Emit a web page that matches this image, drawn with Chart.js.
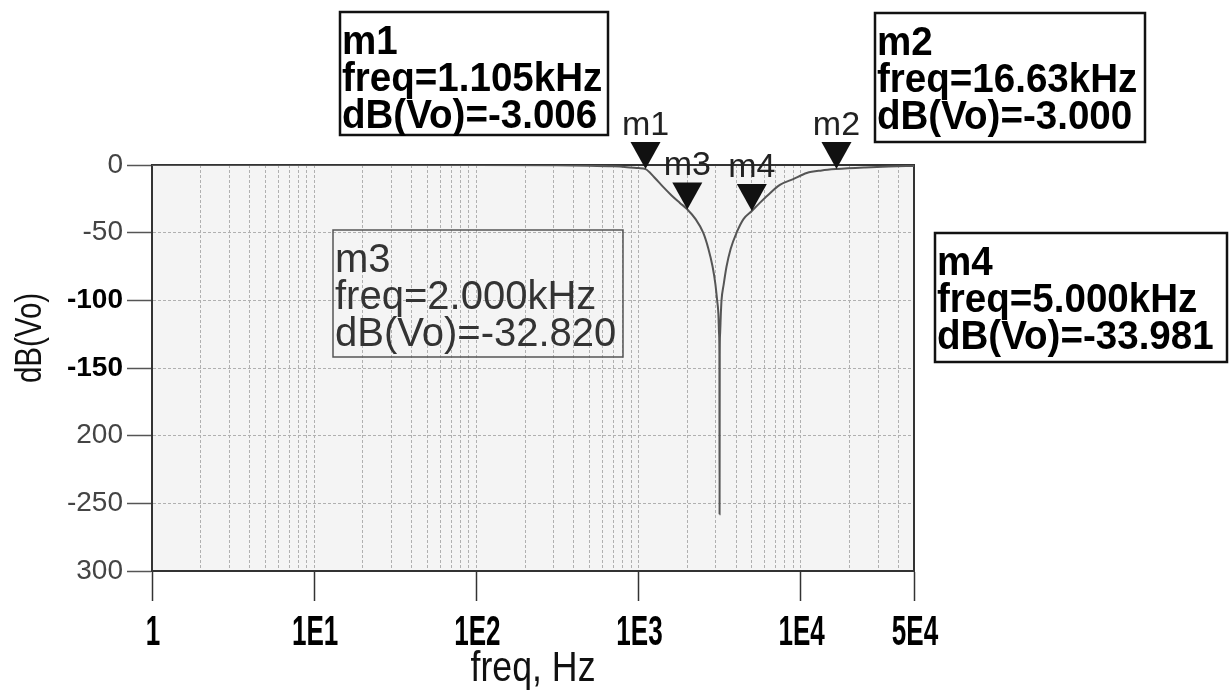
<!DOCTYPE html>
<html>
<head>
<meta charset="utf-8">
<script src="https://cdn.jsdelivr.net/npm/chart.js@4"></script>
<style>
  html, body { margin: 0; padding: 0; background: #fff; }
  #wrap { width: 1231px; height: 691px; position: relative; }
</style>
</head>
<body>
<div id="wrap"><canvas id="chart"></canvas></div>
<script>
// response (notch near 3.16 kHz)
const freqHz = [1, 10, 100, 300, 500, 700, 850, 1000, 1105, 1250, 1414, 1600, 1800, 2000, 2250, 2506, 2700, 2863,
                2980, 3055, 3110, 3140, 3155, 3162, 3170, 3185, 3220, 3251, 3355, 3491, 3700, 4027, 4440, 5000,
                5600, 6250, 7447, 9000, 10900, 13500, 16630, 25000, 35000, 50000];
const dbVo = [0, 0, -0.02, -0.2, -0.5, -1.0, -1.6, -2.3, -3.0, -9, -16, -22.5, -28, -32.8, -40, -50, -62, -75,
              -88, -100, -110, -125, -141, -258, -141, -125, -110, -100, -88, -75, -62, -50, -40, -34,
              -28, -22.5, -14.7, -10.4, -5.9, -4, -3.0, -1.8, -1.1, -0.7];

const xTickValues = [1, 10, 100, 1000, 10000, 50000];
const xTickLabels = ['1', '1E1', '1E2', '1E3', '1E4', '5E4'];
const yTickValues = [0, -50, -100, -150, -200, -250, -300];
const yTickLabels = ['0', '-50', '-100', '-150', '200', '-250', '300'];

const markerNames = ['m1', 'm2', 'm3', 'm4'];
const markerFreq = [1105, 16630, 2000, 5000];
const markerFreqText = ['1.105kHz', '16.63kHz', '2.000kHz', '5.000kHz'];
const markerDb = [-3.006, -3.000, -32.820, -33.981];

// where the readout boxes sit on the page
const boxLayout = {
  m1: { x: 340, y: 12, w: 268, h: 123, bold: true },
  m2: { x: 875, y: 13, w: 270, h: 129, bold: true },
  m3: { x: 333, y: 230, w: 290, h: 127, bold: false },
  m4: { x: 935, y: 233, w: 292, h: 129, bold: true }
};

const SANS = '"Liberation Sans", Arial, sans-serif';

const isBoldY = c => !!(c && c.tick && (c.tick.value === -100 || c.tick.value === -150));

// text squeezed horizontally, like the condensed plot fonts
function squeezed(ctx, text, x, y, sx, align) {
  ctx.save();
  ctx.translate(x, y);
  ctx.scale(sx, 1);
  ctx.textAlign = align;
  ctx.fillText(text, 0, 0);
  ctx.restore();
}

const overlay = {
  id: 'overlay',
  beforeDraw(chart) {
    const { ctx, chartArea: a } = chart;
    ctx.save();
    ctx.fillStyle = '#f4f4f4';
    ctx.fillRect(a.left, a.top, a.right - a.left, a.bottom - a.top);
    ctx.restore();
  },
  beforeDatasetsDraw(chart) {
    const { ctx, chartArea: a } = chart;
    ctx.save();
    ctx.strokeStyle = '#333';
    ctx.lineWidth = 2;
    ctx.strokeRect(a.left, a.top, a.right - a.left, a.bottom - a.top);
    ctx.restore();
  },
  afterDatasetsDraw(chart) {
    const { ctx, chartArea: a } = chart;
    const xs = chart.scales.x, ys = chart.scales.y;
    ctx.save();
    markerNames.forEach((name, i) => {
      const px = xs.getPixelForValue(markerFreq[i]);
      const py = ys.getPixelForValue(markerDb[i]);
      ctx.fillStyle = '#111';
      ctx.beginPath();
      ctx.moveTo(px, py);
      ctx.lineTo(px - 15, py - 27);
      ctx.lineTo(px + 15, py - 27);
      ctx.closePath();
      ctx.fill();
      ctx.font = '34px ' + SANS;
      ctx.fillStyle = '#222';
      ctx.textBaseline = 'alphabetic';
      squeezed(ctx, name, px, py - 34, 1, 'center');
    });

    // x tick labels and axis titles
    ctx.fillStyle = '#000';
    ctx.font = 'bold 42px ' + SANS;
    ctx.textBaseline = 'alphabetic';
    xTickValues.forEach((v, i) => {
      squeezed(ctx, xTickLabels[i], xs.getPixelForValue(v) + 1, a.bottom + 74, 0.62, 'center');
    });
    ctx.fillStyle = '#111';
    ctx.font = '42px ' + SANS;
    squeezed(ctx, 'freq, Hz', (a.left + a.right) / 2, a.bottom + 110, 0.85, 'center');

    ctx.save();
    ctx.translate(41, 338);
    ctx.rotate(-Math.PI / 2);
    ctx.font = '36px ' + SANS;
    squeezed(ctx, 'dB(Vo)', 0, 0, 0.82, 'center');
    ctx.restore();
    ctx.restore();
  },
  afterDraw(chart) {
    const { ctx } = chart;
    ctx.save();
    markerNames.forEach((name, i) => {
      const b = boxLayout[name];
      ctx.strokeStyle = b.bold ? '#111' : '#555';
      ctx.lineWidth = b.bold ? 2.5 : 1.5;
      ctx.strokeRect(b.x, b.y, b.w, b.h);
      ctx.font = (b.bold ? 'bold 41px ' : '40px ') + SANS;
      ctx.fillStyle = b.bold ? '#000' : '#333';
      ctx.textBaseline = 'alphabetic';
      const lines = [name, 'freq=' + markerFreqText[i], 'dB(Vo)=' + markerDb[i].toFixed(3)];
      lines.forEach((t, k) => squeezed(ctx, t, b.x + 2, b.y + 42 + k * 37, b.bold ? 0.94 : 1, 'left'));
    });
    ctx.restore();
  }
};

new Chart(document.getElementById('chart'), {
  type: 'scatter',
  data: {
    datasets: [{
      label: 'dB(Vo)',
      data: freqHz.map((f, i) => ({ x: f, y: dbVo[i] })),
      showLine: true,
      borderColor: '#555',
      borderWidth: 2,
      pointRadius: 0,
      cubicInterpolationMode: 'monotone'
    }]
  },
  options: {
    responsive: true,
    maintainAspectRatio: false,
    animation: false,
    layout: { padding: { left: 8, top: 165, right: 317, bottom: 0 } },
    plugins: { legend: { display: false }, tooltip: { enabled: false } },
    scales: {
      x: {
        type: 'logarithmic',
        min: 1,
        max: 50000,
        afterBuildTicks(scale) {
          const t = [];
          for (let d = 0; d <= 4; d++) {
            for (let k = 1; k <= 9; k++) {
              const v = k * Math.pow(10, d);
              if (v <= 50000) t.push({ value: v, major: xTickValues.includes(v) });
            }
          }
          scale.ticks = t;
        },
        afterFit(scale) { scale.height = 120; },
        grid: {
          color: '#b0b0b0',
          lineWidth: 1,
          tickLength: 30,
          tickColor: c => (c && c.tick && xTickValues.includes(c.tick.value)) ? '#333' : 'rgba(0,0,0,0)',
          tickWidth: 1.5
        },
        border: { color: '#333', width: 2, dash: [3, 2] },
        ticks: { display: false, autoSkip: false, maxRotation: 0 }
      },
      y: {
        min: -300,
        max: 0,
        ticks: {
          stepSize: 50,
          padding: 4,
          color: c => isBoldY(c) ? '#000' : '#444',
          font: c => ({ family: SANS, size: 28, weight: isBoldY(c) ? 'bold' : 'normal' }),
          callback: v => {
            const i = yTickValues.indexOf(v);
            return i >= 0 ? yTickLabels[i] : '';
          }
        },
        afterFit(scale) { scale.width = 144; },
        grid: { color: '#b0b0b0', lineWidth: 1, tickLength: 25, tickColor: '#555', tickWidth: 1.5 },
        border: { color: '#333', width: 2, dash: [3, 2] }
      }
    }
  },
  plugins: [overlay]
});
</script>
</body>
</html>
